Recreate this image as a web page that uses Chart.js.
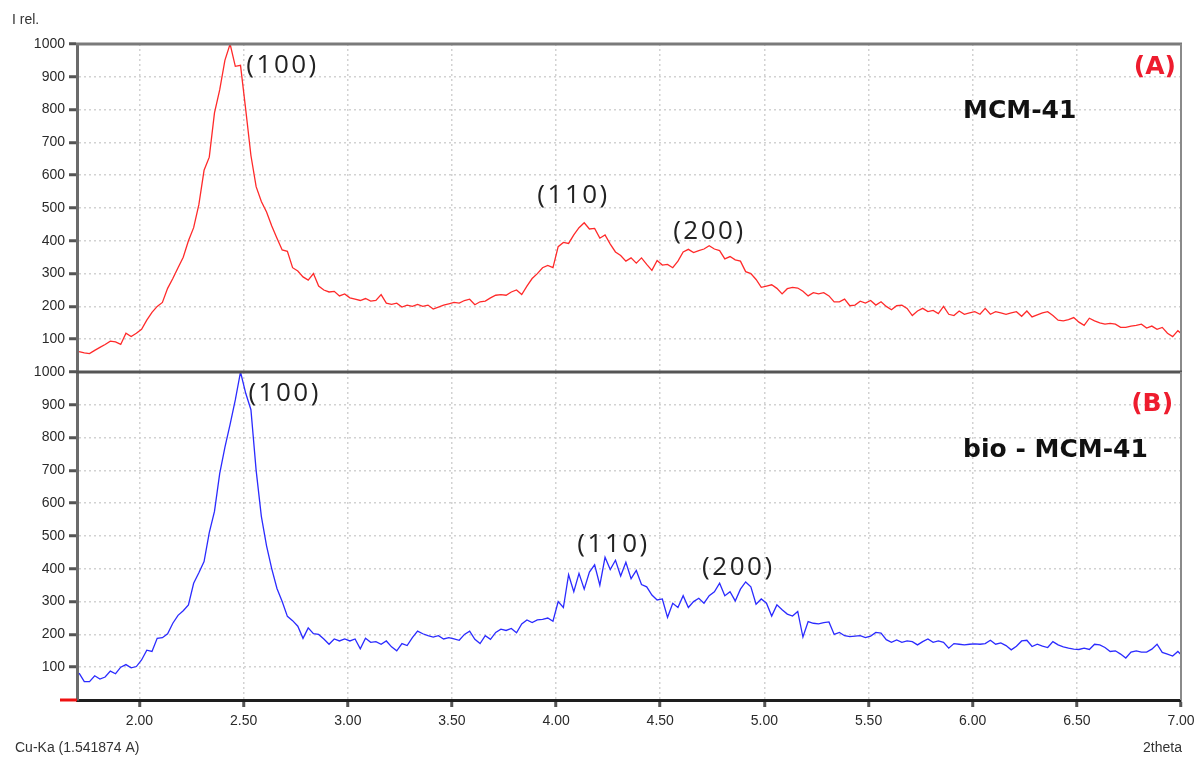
<!DOCTYPE html>
<html>
<head>
<meta charset="utf-8">
<title>XRD MCM-41 / bio-MCM-41</title>
<script src="https://cdn.jsdelivr.net/npm/chart.js@4.4.1/dist/chart.umd.min.js"></script>
<style>
  html, body { margin: 0; padding: 0; background: #fff; }
  #wrap { position: relative; width: 1202px; height: 760px; }
  #wrap canvas { position: absolute; left: 0; top: 0; }
</style>
</head>
<body>
<div id="wrap">
  <canvas id="chartA" width="1202" height="760"></canvas>
  <canvas id="chartB" width="1202" height="760"></canvas>
</div>
<script>
// scan grid (2theta, degrees)
const twoThetaStart = 1.71;
const twoThetaStep = 0.025;

// (A) MCM-41, relative intensity
const intensityA = [
  62, 58, 56, 66, 75, 84, 94, 92, 84, 118,
  108, 118, 130, 158, 182, 200, 212, 255, 285, 318,
  350, 400, 440, 510, 615, 655, 790, 860, 950, 1000,
  932, 935, 800, 660, 565, 520, 488, 445, 408, 372,
  368, 318, 308, 290, 280, 300, 262, 250, 244, 246,
  232, 238, 226, 222, 218, 224, 216, 218, 236, 210,
  206, 210, 198, 204, 200, 206, 200, 204, 192, 198,
  204, 208, 212, 210, 218, 222, 205, 214, 216, 226,
  234, 236, 234, 244, 250, 236, 262, 285, 300, 318,
  325, 318, 382, 395, 392, 418, 440, 455, 436, 438,
  408, 418, 390, 366, 355, 338, 348, 332, 348, 328,
  310, 340, 326, 328, 318, 338, 366, 374, 364, 370,
  375, 385, 375, 370, 345, 352, 342, 338, 306, 300,
  282, 258, 262, 266, 255, 238, 254, 258, 256, 246,
  232, 242, 238, 242, 232, 214, 214, 222, 202, 204,
  216, 210, 218, 204, 214, 200, 190, 202, 204, 194,
  172, 186, 194, 184, 188, 178, 200, 176, 172, 186,
  176, 180, 184, 176, 194, 176, 184, 180, 176, 180,
  184, 170, 186, 168, 174, 180, 184, 172, 158, 156,
  160, 166, 152, 142, 164, 156, 150, 146, 148, 146,
  136, 136, 140, 142, 146, 134, 140, 130, 136, 118,
  108, 126, 112
];

// (B) bio - MCM-41, relative intensity
const intensityB = [
  82, 56, 56, 74, 64, 70, 88, 80, 100, 108,
  98, 102, 122, 152, 148, 188, 190, 202, 234, 258,
  272, 290, 356, 388, 422, 510, 575, 690, 770, 840,
  915, 1000, 935, 885, 700, 560, 470, 400, 340, 300,
  255, 242, 225, 188, 220, 202, 200, 186, 170, 186,
  180, 186, 180, 186, 156, 188, 176, 178, 170, 180,
  162, 150, 172, 166, 190, 210, 202, 196, 192, 196,
  186, 190, 186, 182, 200, 210, 185, 172, 196, 185,
  206, 216, 212, 218, 205, 232, 244, 236, 244, 246,
  250, 240, 300, 282, 382, 330, 386, 338, 390, 412,
  350, 435, 398, 426, 378, 420, 370, 395, 352, 345,
  320, 305, 308, 252, 295, 282, 318, 282, 300, 310,
  295, 318, 330, 356, 318, 330, 302, 338, 360, 345,
  292, 308, 295, 256, 290, 275, 262, 256, 270, 192,
  239, 234, 232, 236, 238, 200, 206, 196, 193, 195,
  196, 190, 195, 206, 204, 184, 176, 183, 176, 180,
  178, 168, 178, 186, 176, 180, 176, 158, 172, 170,
  168, 170, 171, 170, 172, 182, 170, 174, 166, 153,
  164, 180, 182, 163, 170, 164, 160, 178, 168, 162,
  158, 155, 154, 158, 154, 170, 168, 160, 148, 150,
  140, 128, 146, 150, 146, 146, 155, 170, 145, 140,
  134, 148, 132
];

const xTickValues = [2.0, 2.5, 3.0, 3.5, 4.0, 4.5, 5.0, 5.5, 6.0, 6.5, 7.0];
const yTickValues = [100, 200, 300, 400, 500, 600, 700, 800, 900, 1000];

// reflection labels, placed in data units
const peaksA = [
  { text: '(100)', x: 2.513, y: 933 },
  { text: '(110)', x: 3.910, y: 537 },
  { text: '(200)', x: 4.562, y: 427 }
];
const peaksB = [
  { text: '(100)', x: 2.523, y: 933 },
  { text: '(110)', x: 4.102, y: 473 },
  { text: '(200)', x: 4.701, y: 405 }
];

const tickFont = { family: '"Liberation Sans", Arial, sans-serif', size: 14 };

function toPoints(values) {
  return values.map((v, i) => ({ x: twoThetaStart + i * twoThetaStep, y: v }));
}

// frame lines, reflection labels and panel captions
const panelDecor = {
  id: 'panelDecor',
  afterDraw(chart, args, opts) {
    const { ctx, chartArea: a, scales } = chart;
    ctx.save();

    ctx.lineWidth = 3;
    ctx.strokeStyle = opts.topColor;
    ctx.beginPath();
    ctx.moveTo(a.left - 1, a.top);
    ctx.lineTo(a.right + 1, a.top);
    ctx.stroke();

    ctx.lineWidth = 2;
    ctx.strokeStyle = '#8a8a8a';
    ctx.beginPath();
    ctx.moveTo(a.right, a.top);
    ctx.lineTo(a.right, a.bottom);
    ctx.stroke();

    ctx.fillStyle = '#222';
    ctx.textBaseline = 'middle';
    ctx.textAlign = 'left';
    ctx.font = '26px "Open Sans", sans-serif';
    if ('letterSpacing' in ctx) ctx.letterSpacing = '2.5px';
    opts.peaks.forEach(p => {
      ctx.fillText(p.text, scales.x.getPixelForValue(p.x), scales.y.getPixelForValue(p.y));
    });
    if ('letterSpacing' in ctx) ctx.letterSpacing = '0px';

    ctx.font = 'bold 25px "DejaVu Sans", sans-serif';
    ctx.fillStyle = '#ee1c2e';
    ctx.textAlign = 'right';
    ctx.fillText(opts.letter.text, scales.x.getPixelForValue(opts.letter.x), scales.y.getPixelForValue(opts.letter.y));

    ctx.fillStyle = '#111';
    ctx.textAlign = 'left';
    ctx.fillText(opts.sample.text, scales.x.getPixelForValue(opts.sample.x), scales.y.getPixelForValue(opts.sample.y));

    ctx.font = '14px "Liberation Sans", Arial, sans-serif';
    ctx.fillStyle = '#333';
    (opts.notes || []).forEach(n => {
      ctx.textAlign = n.align;
      ctx.fillText(n.text, n.px, n.py);
    });

    if (opts.originMark) {
      ctx.strokeStyle = '#ee1111';
      ctx.lineWidth = 3;
      ctx.beginPath();
      ctx.moveTo(a.left - 17, a.bottom);
      ctx.lineTo(a.left, a.bottom);
      ctx.stroke();
    }
    ctx.restore();
  }
};

function makePanel(canvasId, values, color, isBottom, decor) {
  const ctx = document.getElementById(canvasId).getContext('2d');
  return new Chart(ctx, {
    type: 'line',
    data: {
      datasets: [{
        data: toPoints(values),
        borderColor: color,
        borderWidth: 1.3,
        pointRadius: 0,
        tension: 0,
        fill: false
      }]
    },
    options: {
      responsive: false,
      animation: false,
      devicePixelRatio: 1,
      layout: {
        padding: isBottom
          ? { top: 372, right: 21, bottom: 0, left: 0 }
          : { top: 44, right: 21, bottom: 388, left: 0 }
      },
      plugins: {
        legend: { display: false },
        tooltip: { enabled: false },
        panelDecor: decor
      },
      scales: {
        x: {
          type: 'linear',
          min: 1.70,
          max: 7.0,
          afterBuildTicks: axis => { axis.ticks = xTickValues.map(v => ({ value: v })); },
          afterFit: axis => { axis.height = isBottom ? 60 : 0; },
          ticks: {
            display: isBottom,
            font: tickFont,
            color: '#2a2a2a',
            padding: 6,
            maxRotation: 0,
            callback: v => v.toFixed(2)
          },
          grid: {
            color: '#d2d2d2',
            lineWidth: 1.5,
            drawTicks: isBottom,
            tickLength: 7,
            tickColor: '#555',
            tickWidth: 3
          },
          border: { display: isBottom, color: '#1e1e1e', width: 3, dash: [2, 3] }
        },
        y: {
          min: 0,
          max: 1000,
          afterBuildTicks: axis => { axis.ticks = yTickValues.map(v => ({ value: v })); },
          afterFit: axis => { axis.width = 77; },
          ticks: { font: tickFont, color: '#2a2a2a', padding: 4, callback: v => String(v) },
          grid: {
            color: '#d2d2d2',
            lineWidth: 1.5,
            tickLength: 8,
            tickColor: '#555',
            tickWidth: 3
          },
          border: { color: '#6b6b6b', width: 3, dash: [2, 3] }
        }
      }
    },
    plugins: [panelDecor]
  });
}

makePanel('chartA', intensityA, '#ff2a2a', false, {
  topColor: '#7a7a7a',
  peaks: peaksA,
  letter: { text: '(A)', x: 6.976, y: 927 },
  sample: { text: 'MCM-41', x: 5.954, y: 793 },
  notes: [{ text: 'I rel.', px: 12, py: 20, align: 'left' }]
});

makePanel('chartB', intensityB, '#2b2bff', true, {
  topColor: '#555',
  peaks: peaksB,
  letter: { text: '(B)', x: 6.962, y: 902 },
  sample: { text: 'bio - MCM-41', x: 5.954, y: 762 },
  notes: [
    { text: 'Cu-Ka (1.541874 A)', px: 15, py: 748, align: 'left' },
    { text: '2theta', px: 1182, py: 748, align: 'right' }
  ],
  originMark: true
});
</script>
</body>
</html>
